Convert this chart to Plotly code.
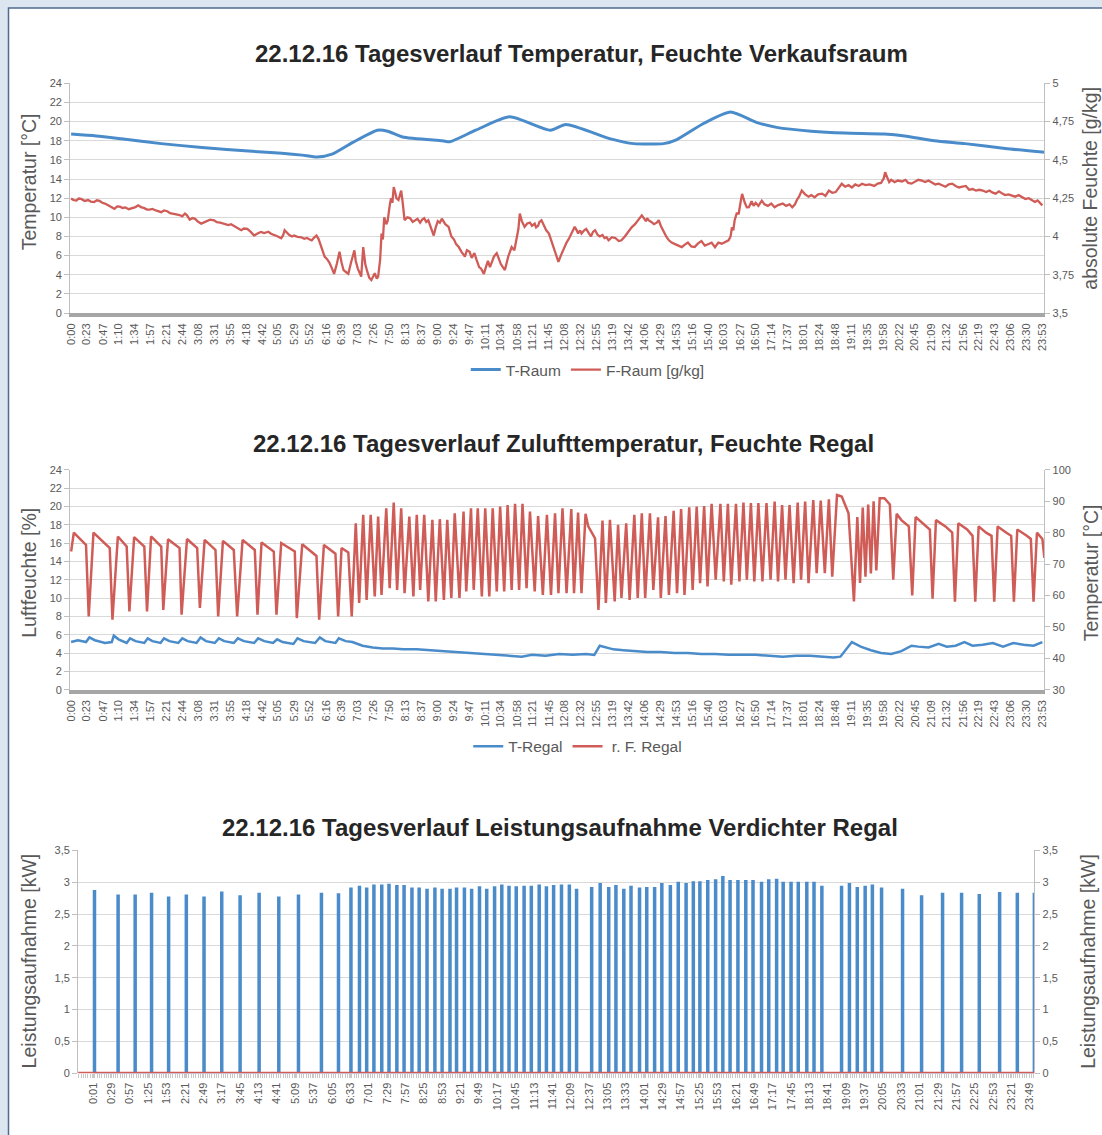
import plotly.graph_objects as go

W, H = 1102, 1135

# ---------------- tick labels ----------------
ticks_12 = ["0:00","0:23","0:47","1:10","1:34","1:57","2:21","2:44","3:08","3:31","3:55","4:18","4:42",
            "5:05","5:29","5:52","6:16","6:39","7:03","7:26","7:50","8:13","8:37","9:00","9:24","9:47",
            "10:11","10:34","10:58","11:21","11:45","12:08","12:32","12:55","13:19","13:42","14:06","14:29",
            "14:53","15:16","15:40","16:03","16:27","16:50","17:14","17:37","18:01","18:24","18:48","19:11",
            "19:35","19:58","20:22","20:45","21:09","21:32","21:56","22:19","22:43","23:06","23:30","23:53"]
ticks_3 = ["0:01","0:29","0:57","1:25","1:53","2:21","2:49","3:17","3:45","4:13","4:41","5:09","5:37",
           "6:05","6:33","7:01","7:29","7:57","8:25","8:53","9:21","9:49","10:17","10:45","11:13","11:41",
           "12:09","12:37","13:05","13:33","14:01","14:29","14:57","15:25","15:53","16:21","16:49","17:17",
           "17:45","18:13","18:41","19:09","19:37","20:05","20:33","21:01","21:29","21:57","22:25","22:53",
           "23:21","23:49"]

y1_left_ticks = [0, 2, 4, 6, 8, 10, 12, 14, 16, 18, 20, 22, 24]
y1_right_vals = [3.5, 3.75, 4, 4.25, 4.5, 4.75, 5]
y1_right_text = ["3,5", "3,75", "4", "4,25", "4,5", "4,75", "5"]
y2_right_ticks = [30, 40, 50, 60, 70, 80, 90, 100]
y3_vals = [0, 0.5, 1, 1.5, 2, 2.5, 3, 3.5]
y3_text = ["0", "0,5", "1", "1,5", "2", "2,5", "3", "3,5"]

# ---------------- chart 1: T-Raum (°C) ----------------
traum_t = [0, 37, 74, 133, 193, 267, 311, 341, 363, 385, 415, 452, 467, 489, 548, 559, 597, 647, 707, 730,
           796, 830, 874, 893, 933, 973, 1012, 1041, 1092, 1141, 1200, 1230, 1274, 1319, 1378, 1437]
traum_v = [18.7, 18.5, 18.2, 17.7, 17.3, 16.9, 16.7, 16.5, 16.3, 16.6, 17.8, 19.1, 19.0, 18.4, 18.0, 17.9,
           19.1, 20.5, 19.1, 19.7, 18.2, 17.7, 17.7, 18.1, 19.8, 21.0, 19.9, 19.4, 19.0, 18.8, 18.7, 18.5,
           18.0, 17.7, 17.2, 16.8]

# ---------------- chart 1: F-Raum (g/kg) ----------------
fraum_t = [0, 4, 8, 11, 15, 20, 25, 29, 34, 38, 42, 46, 50, 54, 57, 60, 64, 68, 72, 76, 80, 85, 90, 95, 99,
           103, 108, 112, 116, 120, 125, 129, 133, 137, 142, 146, 150, 155, 160, 164, 168, 171, 175, 179,
           183, 187, 192, 196, 200, 205, 211, 215, 220, 226, 232, 236, 240, 245, 251, 255, 260, 265, 270,
           275, 280, 285, 291, 295, 300, 305, 310, 313, 315, 318, 322, 326, 329, 334, 340, 344, 348, 352,
           355, 358, 362, 365, 368, 371, 374, 378, 381, 385, 388, 392, 396, 399, 402, 405, 409, 413, 418,
           420, 423, 426, 428, 431, 434, 437, 440, 443, 446, 448, 451, 453, 456, 458, 460, 462, 465, 467,
           470, 472, 474, 476, 478, 480, 483, 485, 487, 489, 492, 496, 500, 504, 507, 511, 515, 518, 521,
           524, 527, 531, 535, 538, 541, 544, 547, 552, 557, 561, 565, 568, 572, 576, 581, 584, 588, 591,
           595, 598, 602, 605, 609, 612, 615, 618, 620, 624, 628, 631, 634, 637, 640, 645, 650, 654, 657,
           660, 662, 665, 669, 673, 677, 680, 684, 686, 689, 691, 694, 698, 701, 705, 708, 712, 715, 719,
           723, 728, 731, 735, 739, 743, 746, 748, 751, 753, 757, 760, 764, 767, 770, 773, 777, 780, 784,
           787, 790, 793, 798, 803, 808, 812, 817, 823, 827, 832, 837, 842, 845, 848, 850, 852, 856, 860,
           864, 867, 870, 874, 878, 882, 886, 891, 896, 901, 905, 910, 915, 920, 925, 930, 935, 941, 945,
           950, 955, 960, 965, 970, 973, 975, 977, 979, 982, 985, 988, 990, 994, 997, 1000, 1004, 1007,
           1010, 1014, 1019, 1023, 1028, 1033, 1038, 1043, 1050, 1055, 1060, 1064, 1068, 1071, 1074, 1078,
           1083, 1088, 1092, 1097, 1102, 1108, 1113, 1118, 1123, 1128, 1133, 1137, 1142, 1147, 1152, 1157,
           1162, 1167, 1172, 1178, 1185, 1190, 1195, 1199, 1201, 1204, 1207, 1210, 1215, 1220, 1226, 1231,
           1235, 1240, 1245, 1250, 1255, 1260, 1265, 1270, 1275, 1280, 1285, 1290, 1295, 1300, 1305, 1310,
           1315, 1320, 1325, 1330, 1335, 1340, 1345, 1350, 1355, 1359, 1364, 1369, 1374, 1378, 1383, 1388,
           1393, 1398, 1403, 1408, 1413, 1418, 1422, 1426, 1430, 1433]
fraum_v = [4.247, 4.238, 4.235, 4.248, 4.245, 4.232, 4.238, 4.228, 4.225, 4.236, 4.232, 4.220, 4.215, 4.204,
           4.200, 4.190, 4.181, 4.196, 4.195, 4.186, 4.190, 4.178, 4.185, 4.192, 4.203, 4.192, 4.185, 4.176,
           4.175, 4.180, 4.170, 4.163, 4.159, 4.170, 4.165, 4.152, 4.150, 4.144, 4.140, 4.132, 4.150, 4.138,
           4.110, 4.120, 4.115, 4.098, 4.084, 4.092, 4.095, 4.110, 4.106, 4.094, 4.090, 4.081, 4.075, 4.080,
           4.070, 4.055, 4.041, 4.052, 4.050, 4.030, 4.006, 4.020, 4.030, 4.022, 4.031, 4.018, 4.010, 4.000,
           3.988, 4.010, 4.041, 4.025, 4.010, 4.000, 4.006, 3.998, 3.995, 3.985, 3.990, 3.980, 3.975, 3.990,
           4.006, 3.985, 3.950, 3.910, 3.869, 3.850, 3.830, 3.790, 3.756, 3.820, 3.900, 3.830, 3.780, 3.770,
           3.756, 3.830, 3.909, 3.840, 3.790, 3.760, 3.738, 3.931, 3.820, 3.770, 3.730, 3.716, 3.745, 3.760,
           3.725, 3.738, 3.850, 4.019, 3.980, 4.125, 4.080, 4.100, 4.200, 4.250, 4.220, 4.322, 4.290, 4.250,
           4.238, 4.280, 4.300, 4.230, 4.106, 4.125, 4.120, 4.095, 4.106, 4.115, 4.090, 4.110, 4.120, 4.095,
           4.106, 4.060, 4.006, 4.060, 4.100, 4.090, 4.116, 4.080, 4.063, 4.000, 3.980, 3.950, 3.931, 3.900,
           3.869, 3.910, 3.900, 3.860, 3.891, 3.850, 3.800, 3.790, 3.756, 3.800, 3.840, 3.800, 3.825, 3.870,
           3.891, 3.850, 3.820, 3.800, 3.781, 3.870, 3.931, 3.910, 3.975, 4.050, 4.150, 4.100, 4.063, 4.085,
           4.090, 4.070, 4.084, 4.060, 4.070, 4.095, 4.106, 4.070, 4.040, 4.019, 3.980, 3.930, 3.880, 3.834,
           3.880, 3.931, 3.960, 3.990, 4.030, 4.063, 4.040, 4.020, 4.040, 4.019, 4.040, 4.050, 4.020, 4.000,
           4.030, 4.041, 4.010, 4.000, 4.010, 3.990, 3.995, 3.975, 3.995, 3.990, 3.970, 3.975, 4.000, 4.041,
           4.060, 4.080, 4.110, 4.138, 4.120, 4.100, 4.120, 4.106, 4.095, 4.080, 4.090, 4.106, 4.070, 4.030,
           4.000, 3.975, 3.960, 3.950, 3.940, 3.931, 3.945, 3.960, 3.935, 3.931, 3.955, 3.970, 3.940, 3.953,
           3.960, 3.930, 3.960, 3.953, 3.965, 3.975, 4.000, 4.060, 4.040, 4.106, 4.150, 4.150, 4.230, 4.278,
           4.220, 4.190, 4.191, 4.230, 4.200, 4.220, 4.200, 4.234, 4.210, 4.200, 4.215, 4.191, 4.205, 4.215,
           4.200, 4.210, 4.191, 4.210, 4.240, 4.260, 4.300, 4.275, 4.260, 4.270, 4.256, 4.275, 4.280, 4.265,
           4.300, 4.285, 4.290, 4.320, 4.344, 4.325, 4.335, 4.320, 4.340, 4.330, 4.344, 4.335, 4.340, 4.330,
           4.345, 4.350, 4.380, 4.419, 4.380, 4.355, 4.370, 4.355, 4.365, 4.359, 4.370, 4.350, 4.345, 4.360,
           4.370, 4.365, 4.355, 4.365, 4.350, 4.340, 4.345, 4.335, 4.325, 4.340, 4.345, 4.330, 4.320, 4.325,
           4.330, 4.305, 4.310, 4.300, 4.305, 4.300, 4.290, 4.300, 4.288, 4.280, 4.295, 4.280, 4.270, 4.275,
           4.269, 4.260, 4.270, 4.255, 4.245, 4.250, 4.238, 4.225, 4.235, 4.215, 4.203]

# ---------------- chart 2: T-Regal (°C, left axis) ----------------
tregal_t = [0, 10, 22, 27, 35, 50, 60, 63, 70, 82, 87, 95, 108, 113, 120, 132, 137, 145, 158, 164, 172, 185,
            191, 199, 212, 218, 226, 240, 246, 255, 270, 276, 285, 298, 304, 312, 328, 334, 343, 360, 367,
            375, 390, 395, 405, 415, 430, 445, 460, 475, 490, 510, 530, 550, 570, 590, 610, 630, 650, 665,
            680, 700, 720, 740, 760, 772, 780, 790, 800, 815, 830, 850, 870, 890, 910, 930, 950, 970, 990,
            1010, 1030, 1050, 1070, 1090, 1110, 1125, 1135, 1145, 1152, 1165, 1180, 1195, 1210, 1225, 1240,
            1250, 1265, 1280, 1292, 1305, 1318, 1330, 1345, 1360, 1375, 1390, 1405, 1420, 1433]
tregal_v = [5.2, 5.4, 5.2, 5.7, 5.4, 5.1, 5.2, 5.9, 5.5, 5.1, 5.6, 5.3, 5.1, 5.6, 5.3, 5.1, 5.6, 5.3, 5.1,
            5.6, 5.3, 5.1, 5.7, 5.3, 5.1, 5.6, 5.3, 5.1, 5.6, 5.3, 5.1, 5.6, 5.3, 5.1, 5.5, 5.2, 5.0, 5.6,
            5.3, 5.1, 5.7, 5.3, 5.1, 5.6, 5.3, 5.2, 4.8, 4.6, 4.5, 4.5, 4.4, 4.4, 4.3, 4.2, 4.1, 4.0, 3.9,
            3.8, 3.7, 3.6, 3.8, 3.7, 3.9, 3.8, 3.9, 3.8, 4.8, 4.6, 4.4, 4.3, 4.2, 4.1, 4.1, 4.0, 4.0, 3.9,
            3.9, 3.8, 3.8, 3.8, 3.7, 3.6, 3.7, 3.7, 3.6, 3.5, 3.6, 4.6, 5.2, 4.7, 4.3, 4.0, 3.9, 4.2, 4.8,
            4.7, 4.6, 5.0, 4.7, 4.8, 5.2, 4.8, 4.9, 5.1, 4.7, 5.1, 4.9, 4.8, 5.2]

# ---------------- chart 2: r. F. Regal (%, right axis) ----------------
rf_t = [0, 4, 22, 26, 33, 57, 61, 69, 82, 86, 93, 108, 112, 118, 133, 136, 143, 160, 163, 171, 186, 190, 197,
        213, 217, 224, 240, 245, 253, 271, 275, 281, 299, 303, 310, 330, 333, 341, 362, 366, 373, 390, 394,
        399, 409, 414,
        420, 425, 431, 436, 442, 448, 453, 458, 465, 470, 476, 481, 487, 492, 499, 505, 510, 515, 521, 527,
        533, 538, 544, 550, 555, 561, 566, 573,
        579, 583, 590, 594, 600, 606, 611, 617, 622, 628, 633, 639, 644, 650, 655, 661, 666, 672, 677, 684,
        689, 696, 702, 708, 714, 719, 725, 731, 738, 742, 748, 753, 759, 763, 773, 778, 784, 789, 795, 802,
        807, 812, 819, 824, 831, 836, 842, 847, 854, 859, 866, 870, 877, 882, 889, 894, 900, 905, 912, 917,
        923, 928, 934, 939, 945, 951, 958, 963, 969, 974, 981, 986, 992, 997, 1003, 1008, 1014, 1020, 1026,
        1032, 1038, 1043, 1049, 1054, 1060, 1066, 1072, 1077, 1083, 1088, 1095, 1100, 1106, 1112, 1118,
        1123, 1130, 1137, 1147, 1155,
        1160, 1164, 1168, 1172, 1176, 1180, 1184, 1188, 1193, 1200, 1208, 1213, 1218, 1225, 1236, 1241,
        1246, 1256, 1267, 1271, 1276, 1290, 1300, 1304, 1309, 1322, 1330, 1334, 1339, 1350, 1358, 1362,
        1367, 1380, 1387, 1391, 1396, 1410, 1416, 1420, 1425, 1433, 1436]
rf_v = [74.0, 80.0, 76.1, 53.3, 80.0, 75.1, 52.3, 78.8, 75.6, 54.9, 78.6, 75.6, 54.9, 78.8, 75.6, 55.4, 77.9,
        75.1, 53.9, 78.0, 75.1, 56.0, 77.7, 74.5, 53.3, 77.4, 74.5, 53.3, 77.7, 74.5, 53.9, 76.9, 74.0, 53.9,
        76.7, 74.0, 52.8, 76.3, 72.6, 52.3, 76.1, 73.3, 53.3, 75.1, 73.7, 53.3,
        83.0, 57.6, 85.7, 58.6, 85.7, 59.7, 85.1, 60.2, 87.8, 62.3, 89.6, 61.8, 87.8, 60.7, 85.1, 59.7, 85.7,
        61.8, 85.7, 58.1, 84.1, 58.1, 84.3, 58.6, 84.1, 59.2, 86.2, 59.2,
        86.7, 61.3, 87.8, 61.8, 87.8, 59.7, 87.8, 59.7, 87.8, 61.3, 88.3, 61.3, 88.8, 61.8, 89.2, 61.8, 89.2,
        62.3, 86.7, 61.3, 85.3, 60.2, 85.7, 60.2, 86.2, 60.7, 87.8, 60.7, 87.5, 60.7, 86.4, 60.7, 86.0, 82.0,
        78.2, 55.4, 83.9, 57.6, 84.1, 58.1, 82.5, 59.2, 83.0, 58.6, 85.7, 59.2, 86.2, 59.2, 86.2, 61.8, 84.9,
        59.2, 85.3, 60.2, 87.0, 60.7, 87.5, 60.2, 88.1, 61.8, 88.3, 63.9, 88.5, 62.9, 89.2, 65.0, 89.2, 64.5,
        89.2, 63.4, 89.2, 64.5, 89.6, 65.0, 89.4, 64.5, 89.4, 64.5, 89.4, 65.0, 89.9, 64.5, 88.8, 65.0, 88.8,
        63.9, 89.6, 65.0, 89.9, 63.9, 90.4, 67.1, 90.2, 67.1, 90.6, 66.0, 92.0, 91.5, 86.2, 58.1,
        85.0, 64.0, 88.0, 66.0, 89.0, 67.0, 90.0, 68.0, 91.0, 91.0, 89.0, 65.0, 86.0, 84.0, 82.0, 60.0, 85.0,
        83.0, 81.0, 59.0, 84.0, 82.0, 80.0, 58.0, 83.0, 81.0, 79.0, 58.0, 82.0, 80.0, 79.0, 58.0, 82.0, 80.0,
        79.0, 58.0, 81.0, 79.0, 78.0, 58.0, 80.0, 78.0, 72.0]

# ---------------- chart 3: compressor power (kW) ----------------
pw_on = [2, 38, 64, 89, 115, 142, 169, 196, 224, 253,
         283, 313, 348, 374, 393, 406, 417, 428, 440, 451,
         463, 474, 486, 497, 509, 521, 532, 544, 554, 566,
         577, 589, 600, 612, 623, 634, 645, 657, 668, 680,
         691, 702, 714, 726, 737, 760, 773, 786, 797, 809,
         820, 833, 844, 856, 867, 880, 892, 904, 915, 925,
         937, 949, 960, 971, 983, 995, 1006, 1019, 1030, 1042,
         1052, 1064, 1075, 1088, 1099, 1111, 1141, 1153, 1165, 1177,
         1188, 1202, 1234, 1263, 1295, 1324, 1351, 1382, 1409, 1435]
pw_off = [4, 40, 66, 91, 117, 144, 171, 198, 226, 255,
          285, 315, 350, 376, 395, 408, 419, 430, 442, 453,
          465, 476, 488, 499, 511, 523, 534, 546, 556, 568,
          579, 591, 602, 614, 625, 636, 647, 659, 670, 682,
          693, 704, 716, 728, 739, 762, 775, 788, 799, 811,
          822, 835, 846, 858, 869, 882, 894, 906, 917, 927,
          939, 951, 962, 973, 985, 997, 1008, 1021, 1032, 1044,
          1054, 1066, 1077, 1090, 1101, 1113, 1143, 1155, 1167, 1179,
          1190, 1204, 1236, 1265, 1297, 1326, 1353, 1384, 1411, 1437]
pw_peak = [2.86, 2.79, 2.79, 2.82, 2.76, 2.79, 2.76, 2.84, 2.78, 2.82,
           2.76, 2.79, 2.82, 2.81, 2.90, 2.93, 2.90, 2.95, 2.95, 2.96,
           2.94, 2.94, 2.90, 2.90, 2.88, 2.90, 2.88, 2.88, 2.90, 2.90,
           2.88, 2.92, 2.88, 2.92, 2.95, 2.93, 2.92, 2.93, 2.93, 2.95,
           2.92, 2.94, 2.95, 2.95, 2.88, 2.91, 2.97, 2.91, 2.94, 2.88,
           2.93, 2.90, 2.91, 2.91, 2.97, 2.94, 2.99, 2.97, 3.00, 3.00,
           3.02, 3.03, 3.08, 3.02, 3.02, 3.02, 3.02, 2.99, 3.03, 3.04,
           2.99, 2.99, 2.99, 2.99, 2.99, 2.93, 2.93, 2.97, 2.91, 2.93,
           2.95, 2.90, 2.88, 2.78, 2.82, 2.82, 2.80, 2.83, 2.82, 2.82]
pw_zero_t = [-22, 1436]
pw_zero_v = [0, 0]


def minutes(lbl):
    h, m = lbl.split(":")
    return int(h) * 60 + int(m)


# build pulse line for power
pw_x, pw_y = [], []
for s, e, p in zip(pw_on, pw_off, pw_peak):
    pw_x += [s, s, e, e]
    pw_y += [0, p, p, 0]

BLUE = "#4a8bca"
RED = "#d05c57"
FONT = "Liberation Sans, Arial, sans-serif"
TXT = "#595959"
GRID = "#d9d9d9"
AX = "#bfbfbf"

fig = go.Figure()

fig.add_trace(go.Scatter(x=traum_t, y=traum_v, mode="lines", name="T-Raum",
                         line=dict(color=BLUE, width=3, shape="spline", smoothing=0.6),
                         xaxis="x", yaxis="y", legend="legend"))
fig.add_trace(go.Scatter(x=fraum_t, y=fraum_v, mode="lines", name="F-Raum [g/kg]",
                         line=dict(color=RED, width=2.3), xaxis="x", yaxis="y2", legend="legend"))
fig.add_trace(go.Scatter(x=tregal_t, y=tregal_v, mode="lines", name="T-Regal",
                         line=dict(color=BLUE, width=2.5), xaxis="x2", yaxis="y3", legend="legend2"))
fig.add_trace(go.Scatter(x=rf_t, y=rf_v, mode="lines", name="\u00a0r. F. Regal",
                         line=dict(color=RED, width=2.5), xaxis="x2", yaxis="y4", legend="legend2"))
fig.add_trace(go.Scatter(x=pw_x, y=pw_y, mode="lines", name="Leistung",
                         line=dict(color=BLUE, width=2.2), xaxis="x3", yaxis="y5", showlegend=False))
fig.add_trace(go.Scatter(x=pw_zero_t, y=pw_zero_v, mode="lines", name="Null",
                         line=dict(color=RED, width=3), xaxis="x3", yaxis="y5", showlegend=False))
fig.add_trace(go.Scatter(x=[None], y=[None], xaxis="x3", yaxis="y6", showlegend=False, hoverinfo="skip"))

# the rendered page is shown with a small offset / scale; map target pixels to figure pixels
OFF_X, OFF_Y, SC = 4.0, 5.6, 0.9905


def py(px):
    return 1 - ((px - OFF_Y) / SC) / H


def pxx(px):
    return ((px - OFF_X) / SC) / W


tickfont = dict(family=FONT, size=11, color=TXT)
xtickfont = dict(family=FONT, size=11, color=TXT)

d12 = [pxx(69), pxx(1042)]
d3 = [pxx(77), pxx(1032)]

common_x = dict(showgrid=False, zeroline=False, tickangle=-90, tickfont=xtickfont)
fig.update_layout(
    xaxis=dict(domain=d12, range=[-1.5, 1436], anchor="y", tickmode="array",
               tickvals=[minutes(t) for t in ticks_12], ticktext=ticks_12, ticks="outside",
               ticklen=2, tickcolor="rgba(0,0,0,0)",
               showline=True, linecolor="#a6a6a6", linewidth=4, **common_x),
    yaxis=dict(domain=[py(313), py(83)], range=[0, 24], tickvals=y1_left_ticks, anchor="x",
               showgrid=True, gridcolor=GRID, zeroline=False, showline=True, linecolor=AX,
               ticks="outside", ticklen=5, tickcolor=AX, tickfont=tickfont),
    yaxis2=dict(range=[3.5, 5], overlaying="y", side="right", anchor="x", tickmode="array",
                tickvals=y1_right_vals, ticktext=y1_right_text, showgrid=False, zeroline=False,
                showline=True, linecolor=AX, ticks="outside", ticklen=5, tickcolor=AX, tickfont=tickfont),
    xaxis2=dict(domain=d12, range=[-1.5, 1436], anchor="y3", tickmode="array",
                tickvals=[minutes(t) for t in ticks_12], ticktext=ticks_12, ticks="outside",
                ticklen=2, tickcolor="rgba(0,0,0,0)",
                showline=True, linecolor="#a6a6a6", linewidth=4, **common_x),
    yaxis3=dict(domain=[py(690), py(470)], range=[0, 24], tickvals=y1_left_ticks, anchor="x2",
                showgrid=True, gridcolor=GRID, zeroline=False, showline=True, linecolor=AX,
                ticks="outside", ticklen=5, tickcolor=AX, tickfont=tickfont),
    yaxis4=dict(range=[30, 100], overlaying="y3", side="right", anchor="x2", tickvals=y2_right_ticks,
                showgrid=False, zeroline=False, showline=True, linecolor=AX, ticks="outside", ticklen=5,
                tickcolor=AX, tickfont=tickfont),
    xaxis3=dict(domain=d3, range=[-22, 1436], anchor="y5", tickmode="array",
                tickvals=[minutes(t) for t in ticks_3], ticktext=ticks_3,
                showline=False, ticks="outside", ticklen=4, tickcolor="#c8c8c8",
                minor=dict(ticks="outside", ticklen=4, tickcolor="#c8c8c8", tick0=0, dtick=3.5, showgrid=False),
                **common_x),
    yaxis5=dict(domain=[py(1074), py(851)], range=[0, 3.5], tickmode="array", tickvals=y3_vals,
                ticktext=y3_text, anchor="x3", showgrid=True, gridcolor=GRID, zeroline=False,
                showline=True, linecolor=AX, ticks="outside", ticklen=5, tickcolor=AX, tickfont=tickfont),
    yaxis6=dict(range=[0, 3.5], overlaying="y5", side="right", anchor="x3", tickmode="array",
                tickvals=y3_vals, ticktext=y3_text, showgrid=False, zeroline=False, showline=True,
                linecolor=AX, ticks="outside", ticklen=5, tickcolor=AX, tickfont=tickfont),
)

fig.update_layout(
    width=W, height=H, margin=dict(l=0, r=0, t=0, b=0),
    paper_bgcolor="#dce6f1", plot_bgcolor="rgba(0,0,0,0)",
    font=dict(family=FONT, color=TXT),
    legend=dict(orientation="h", x=pxx(586), xanchor="center", y=py(370), yanchor="middle",
                font=dict(family=FONT, size=15.5, color=TXT), bgcolor="rgba(0,0,0,0)",
                itemwidth=30, tracegroupgap=0),
    legend2=dict(orientation="h", x=pxx(576), xanchor="center", y=py(747), yanchor="middle",
                 font=dict(family=FONT, size=15.5, color=TXT), bgcolor="rgba(0,0,0,0)",
                 itemwidth=30, tracegroupgap=0),
    shapes=[dict(type="rect", xref="paper", yref="paper", x0=pxx(7.5), x1=1.05, y0=-0.05, y1=py(7.5),
                 fillcolor="white", line=dict(color="#4f6b8e", width=1.5), layer="below")],
)

ann = []
titles = [("22.12.16 Tagesverlauf Temperatur, Feuchte Verkaufsraum", 580, 53),
          ("22.12.16 Tagesverlauf Zulufttemperatur, Feuchte Regal", 562, 444),
          ("22.12.16 Tagesverlauf Leistungsaufnahme Verdichter Regal", 558, 828)]
for txt, cx, cy in titles:
    ann.append(dict(text=txt, x=pxx(cx), y=py(cy), xref="paper", yref="paper", showarrow=False,
                    xanchor="center", yanchor="middle",
                    font=dict(family=FONT, size=24, color="#262626", weight="bold")))
axis_titles = [("Temperatur [°C]", 28, 182), ("absolute Feuchte [g/kg]", 1088, 188),
               ("Luftfeuchte [%]", 28, 573), ("Temperatur [°C]", 1088, 573),
               ("Leistungsaufnahme [kW]", 28, 962), ("Leistungsaufnahme [kW]", 1086, 962)]
for txt, cx, cy in axis_titles:
    ann.append(dict(text=txt, x=pxx(cx), y=py(cy), xref="paper", yref="paper", showarrow=False,
                    xanchor="center", yanchor="middle", textangle=-90,
                    font=dict(family=FONT, size=19.5, color=TXT)))
fig.update_layout(annotations=ann)

fig.write_html("out.html", config={"displayModeBar": False},
               post_script="document.body.style.margin='0px';document.body.style.overflow='hidden';"
                           "document.documentElement.style.overflow='hidden';")
